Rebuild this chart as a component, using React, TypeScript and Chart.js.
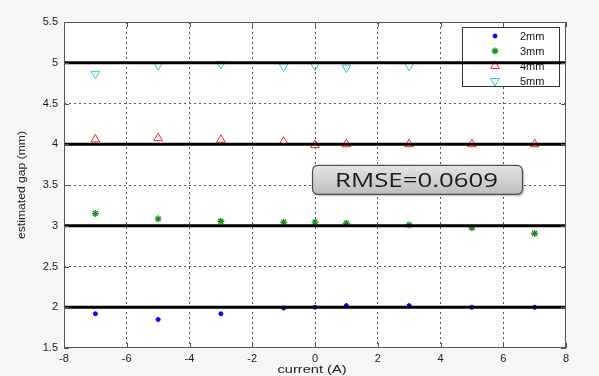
import React, { useEffect, useRef } from 'react';
import { Chart, registerables } from 'chart.js';
import { drawPoint } from 'chart.js/helpers';

Chart.register(...registerables);

// ---- data ----
const currents = [-7, -5, -3, -1, 0, 1, 3, 5, 7];
const gap2mm = [1.92, 1.85, 1.92, 1.99, 2.0, 2.02, 2.02, 2.0, 2.0];
const gap3mm = [3.15, 3.085, 3.055, 3.045, 3.045, 3.03, 3.01, 2.975, 2.905];
const gap4mm = [4.06, 4.075, 4.055, 4.03, 3.99, 4.0, 4.0, 4.0, 4.0];
const currents5mm = [-7, -5, -3, -1, 0, 1, 3];
const gap5mm = [4.865, 4.97, 4.985, 4.955, 4.965, 4.94, 4.96];
const nominalGaps = [2, 3, 4, 5];
const xTickLimits = [-8, 8];
const yTickLimits = [1.5, 5.5];
const seriesLabels = ['2mm', '3mm', '4mm', '5mm'];
const rmseLabel = 'RMSE=0.0609';
const xTitle = 'current (A)';
const yTitle = 'estimated gap (mm)';

const FONT = '"Liberation Sans", Arial, sans-serif';

const pts = (xs: number[], ys: number[]) => xs.map((x, i) => ({ x, y: ys[i] }));

const markerStyles = [
  { pointStyle: 'circle', radius: 2, rotation: 0, borderColor: '#0000ff', backgroundColor: '#0000ff', borderWidth: 1 },
  { pointStyle: 'star', radius: 3.5, rotation: 0, borderColor: '#1f8f1f', backgroundColor: '#1f8f1f', borderWidth: 1.3 },
  { pointStyle: 'triangle', radius: 5, rotation: 0, borderColor: '#ff2020', backgroundColor: 'rgba(0,0,0,0)', borderWidth: 1 },
  { pointStyle: 'triangle', radius: 5, rotation: 180, borderColor: '#33c4c4', backgroundColor: 'rgba(0,0,0,0)', borderWidth: 1 },
];

const bgPlugin = {
  id: 'bgPlugin',
  beforeDraw(chart: any) {
    const { ctx, chartArea: a } = chart;
    ctx.save();
    ctx.fillStyle = '#f6f6f6';
    ctx.fillRect(0, 0, chart.width, chart.height);
    ctx.fillStyle = '#ffffff';
    ctx.fillRect(a.left, a.top, a.right - a.left, a.bottom - a.top);
    ctx.restore();
  },
};

const legendPlugin = {
  id: 'legendPlugin',
  beforeDatasetsDraw(chart: any) {
    const { ctx, chartArea: a } = chart;
    const w = 97, h = 59;
    const x0 = a.right - 7 - w;
    const y0 = a.top + 5;
    ctx.save();
    ctx.fillStyle = '#ffffff';
    ctx.fillRect(x0, y0, w, h);
    ctx.strokeStyle = '#333333';
    ctx.lineWidth = 1;
    ctx.strokeRect(Math.round(x0) + 0.5, Math.round(y0) + 0.5, w, h);
    ctx.font = `11px ${FONT}`;
    ctx.textBaseline = 'middle';
    ctx.textAlign = 'left';
    seriesLabels.forEach((lab, i) => {
      const cy = y0 + 9 + i * 15;
      const m = markerStyles[i];
      ctx.save();
      ctx.strokeStyle = m.borderColor;
      ctx.fillStyle = m.backgroundColor;
      ctx.lineWidth = m.borderWidth;
      drawPoint(ctx, { pointStyle: m.pointStyle as any, radius: m.radius, rotation: m.rotation, borderWidth: m.borderWidth }, x0 + 33, cy);
      ctx.restore();
      ctx.fillStyle = '#111111';
      ctx.fillText(lab, x0 + 58, cy + 1);
    });
    ctx.restore();
  },
};

const framePlugin = {
  id: 'framePlugin',
  afterDraw(chart: any) {
    const { ctx, chartArea: a, scales } = chart;
    ctx.save();
    // frame
    ctx.strokeStyle = '#555555';
    ctx.lineWidth = 1;
    ctx.strokeRect(Math.round(a.left) + 0.5, Math.round(a.top) + 0.5, Math.round(a.right - a.left) - 1, Math.round(a.bottom - a.top) - 1);
    // inner ticks
    ctx.beginPath();
    scales.x.ticks.forEach((t: any) => {
      const px = Math.round(scales.x.getPixelForValue(t.value)) + 0.5;
      ctx.moveTo(px, a.bottom);
      ctx.lineTo(px, a.bottom - 5);
      ctx.moveTo(px, a.top);
      ctx.lineTo(px, a.top + 5);
    });
    scales.y.ticks.forEach((t: any) => {
      const py = Math.round(scales.y.getPixelForValue(t.value)) + 0.5;
      ctx.moveTo(a.left, py);
      ctx.lineTo(a.left + 5, py);
      ctx.moveTo(a.right, py);
      ctx.lineTo(a.right - 5, py);
    });
    ctx.stroke();

    // axis titles
    ctx.fillStyle = '#222222';
    ctx.textAlign = 'center';
    ctx.textBaseline = 'middle';
    ctx.font = `11px ${FONT}`;
    const xw = ctx.measureText(xTitle).width;
    ctx.save();
    ctx.translate((a.left + a.right) / 2 - 3, chart.height - 6);
    ctx.scale(69 / xw, 1);
    ctx.fillText(xTitle, 0, 0);
    ctx.restore();

    ctx.font = `11px ${FONT}`;
    const yw = ctx.measureText(yTitle).width;
    ctx.save();
    ctx.translate(22, (a.top + a.bottom) / 2);
    ctx.rotate(-Math.PI / 2);
    ctx.scale(108 / yw, 1);
    ctx.fillText(yTitle, 0, 0);
    ctx.restore();

    // RMSE annotation box
    const bx = a.left + 0.495 * (a.right - a.left);
    const by = a.top + 0.44 * (a.bottom - a.top);
    const bw = 210, bh = 29, r = 6;
    const rr = (x: number, y: number) => {
      ctx.beginPath();
      ctx.moveTo(x + r, y);
      ctx.lineTo(x + bw - r, y);
      ctx.quadraticCurveTo(x + bw, y, x + bw, y + r);
      ctx.lineTo(x + bw, y + bh - r);
      ctx.quadraticCurveTo(x + bw, y + bh, x + bw - r, y + bh);
      ctx.lineTo(x + r, y + bh);
      ctx.quadraticCurveTo(x, y + bh, x, y + bh - r);
      ctx.lineTo(x, y + r);
      ctx.quadraticCurveTo(x, y, x + r, y);
      ctx.closePath();
    };
    ctx.fillStyle = 'rgba(0,0,0,0.18)';
    rr(bx + 2, by + 2);
    ctx.fill();
    const g = ctx.createLinearGradient(0, by, 0, by + bh);
    g.addColorStop(0, '#e4e4e4');
    g.addColorStop(1, '#bdbdbd');
    ctx.fillStyle = g;
    rr(bx, by);
    ctx.fill();
    ctx.strokeStyle = '#4a4a4a';
    ctx.lineWidth = 1.2;
    ctx.stroke();
    ctx.fillStyle = '#1c1c1c';
    ctx.font = `20px "Open Sans", sans-serif`;
    const tw = ctx.measureText(rmseLabel).width;
    ctx.save();
    ctx.translate(bx + bw / 2 - 1, by + bh / 2 + 1);
    ctx.scale(163 / tw, 1);
    ctx.fillText(rmseLabel, 0, 0);
    ctx.restore();
    ctx.restore();
  },
};

const plainNumber = (v: any) => String(Number(v));

export default function App() {
  const ref = useRef<HTMLCanvasElement | null>(null);

  useEffect(() => {
    document.body.style.margin = '0';
    const canvas = ref.current;
    if (!canvas) return;

    const seriesData = [pts(currents, gap2mm), pts(currents, gap3mm), pts(currents, gap4mm), pts(currents5mm, gap5mm)];
    const scatterSets = seriesData.map((d, i) => {
      const m = markerStyles[i];
      return {
        type: 'scatter' as const,
        label: seriesLabels[i],
        data: d,
        showLine: false,
        pointStyle: m.pointStyle,
        pointRadius: m.radius,
        pointRotation: m.rotation,
        pointBorderColor: m.borderColor,
        pointBackgroundColor: m.backgroundColor,
        pointBorderWidth: m.borderWidth,
        borderColor: m.borderColor,
        backgroundColor: m.backgroundColor,
        order: 2,
      };
    });
    const refLines = nominalGaps.map((g) => ({
      type: 'line' as const,
      label: `${g} mm reference`,
      data: xTickLimits.map((x) => ({ x, y: g })),
      borderColor: '#000000',
      borderWidth: 3,
      pointRadius: 0,
      fill: false,
      order: 1,
    }));

    const edgeColor = (lims: number[]) => (c: any) =>
      c.tick && (c.tick.value === lims[0] || c.tick.value === lims[1]) ? 'rgba(0,0,0,0)' : '#555555';

    const chart = new Chart(canvas, {
      type: 'scatter',
      data: { datasets: [...scatterSets, ...refLines] as any },
      options: {
        responsive: false,
        animation: false,
        devicePixelRatio: 1,
        layout: { padding: { top: 22, right: 33, left: 0, bottom: 0 } },
        plugins: { legend: { display: false }, tooltip: { enabled: false } },
        scales: {
          x: {
            type: 'linear',
            min: xTickLimits[0],
            max: xTickLimits[1],
            ticks: { stepSize: 2, color: '#222222', font: { family: FONT, size: 11 }, padding: 4, maxRotation: 0, callback: plainNumber },
            grid: { color: edgeColor(xTickLimits), lineWidth: 1, drawTicks: false },
            border: { display: false, dash: [2, 3] },
            afterFit: (s: any) => { s.height = 28; },
          },
          y: {
            type: 'linear',
            min: yTickLimits[0],
            max: yTickLimits[1],
            ticks: { stepSize: 0.5, color: '#222222', font: { family: FONT, size: 11 }, padding: 6, callback: plainNumber },
            grid: { color: edgeColor(yTickLimits), lineWidth: 1, drawTicks: false },
            border: { display: false, dash: [2, 3] },
            afterFit: (s: any) => { s.width = 64; },
          },
        },
      },
      plugins: [bgPlugin, legendPlugin, framePlugin],
    });
    return () => chart.destroy();
  }, []);

  return (
    <div style={{ width: 599, height: 376 }}>
      <canvas ref={ref} width={599} height={376} style={{ display: 'block' }} />
    </div>
  );
}
